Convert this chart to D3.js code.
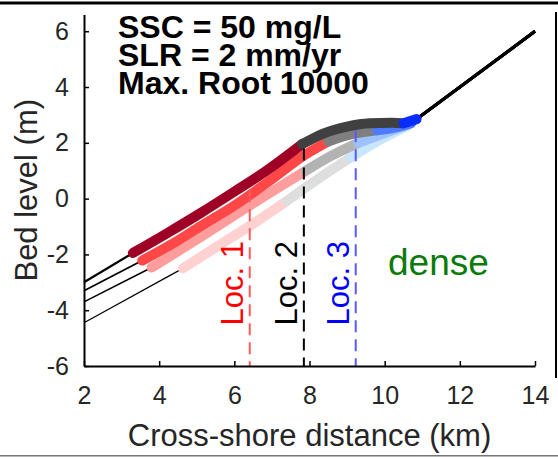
<!DOCTYPE html>
<html>
<head>
<meta charset="utf-8">
<script src="https://cdn.jsdelivr.net/npm/d3@7"></script>
<style>
  html, body { margin: 0; padding: 0; background: #fff; }
  svg { display: block; font-family: Arial, "Liberation Sans", Helvetica, sans-serif; }
</style>
</head>
<body>
<svg id="chart" width="558" height="459"></svg>
<script>
// Bed profiles (cross-shore distance in km, bed level in m)
const bedX1 = [2, 3.3, 4.2, 5.1, 6.0, 6.8, 7.8, 8.4, 9.0, 9.6, 10.2, 10.5, 10.85, 14];
const bedY1 = [-3.0, -1.95, -1.25, -0.52, 0.25, 0.95, 1.95, 2.35, 2.58, 2.7, 2.72, 2.7, 2.85, 6];
const breaks1 = [3.3, 7.8, 10.5, 10.85];

const bedX2 = [2, 3.55, 4.5, 5.1, 6.0, 7.0, 7.8, 8.5, 9.1, 9.8, 10.3, 10.7, 14];
const bedY2 = [-3.3, -2.22, -1.5, -0.99, -0.25, 0.7, 1.5, 2.05, 2.3, 2.45, 2.55, 2.7, 6];
const breaks2 = [3.55, 8.5, 9.8, 10.7];

const bedX3 = [2, 3.8, 5.1, 6.0, 7.0, 7.9, 8.6, 9.3, 10.0, 10.7, 14];
const bedY3 = [-3.7, -2.47, -1.38, -0.6, 0.25, 1.0, 1.55, 2.0, 2.35, 2.7, 6];
const breaks3 = [3.8, 7.9, 9.3, 10.7];

const bedX4 = [2, 4.63, 5.5, 6.5, 7.4, 8.2, 9.1, 9.8, 10.6, 14];
const bedY4 = [-4.45, -2.5, -1.75, -0.9, -0.08, 0.68, 1.48, 2.05, 2.6, 6];
const breaks4 = [4.63, 7.4, 9.1, 10.6];

// Zone colours per profile (vegetated, transition, upper platform)
const marshColors = ["#9e0026", "#ff4747", "#ff9c9c", "#ffd1d1"];
const grayColors  = ["#404040", "#7f7f7f", "#b3b3b3", "#dedede"];
const blueColors  = ["#0a2dff", "#4d7aff", "#9cc2ff", "#c9e6ff"];
const bareWidths  = [2.2, 1.8, 1.5, 1.2];

// Sampling locations
const locX = [6.41, 7.85, 9.23];
const locTop = [0.3, 1.8, 2.45];
const locLineColors = ["#ff5a5a", "#000000", "#5a5aff"];
const locTextColors = ["#ff0000", "#000000", "#0000ff"];
const locNames = ["Loc. 1", "Loc. 2", "Loc. 3"];

const xTicks = [2, 4, 6, 8, 10, 12, 14];
const yTicks = [-6, -4, -2, 0, 2, 4, 6];
const infoLines = ["SSC = 50 mg/L", "SLR = 2 mm/yr", "Max. Root 10000"];

const svg = d3.select("#chart");
const x = d3.scaleLinear([2, 14], [84, 535]);
const y = d3.scaleLinear([-6, 6.6], [366, 14.5]);

// page frame pieces
svg.append("rect").attr("x", 0).attr("y", 1.5).attr("width", 558).attr("height", 3).attr("fill", "#000");
svg.append("rect").attr("x", 0).attr("y", 455).attr("width", 558).attr("height", 1.5).attr("fill", "#777");
svg.append("rect").attr("x", 555).attr("y", 12).attr("width", 2).attr("height", 366).attr("fill", "#000");

const line = d3.line().x(d => x(d[0])).y(d => y(d[1])).curve(d3.curveMonotoneX);

const profiles = [
  {xs: bedX1, ys: bedY1, br: breaks1},
  {xs: bedX2, ys: bedY2, br: breaks2},
  {xs: bedX3, ys: bedY3, br: breaks3},
  {xs: bedX4, ys: bedY4, br: breaks4}
];

function part(p, a, b) {
  const pts = [];
  p.xs.forEach((v, i) => { if (v >= a - 1e-9 && v <= b + 1e-9) pts.push([v, p.ys[i]]); });
  return pts;
}

const gLines = svg.append("g");
// lightest profile first so darker ones sit on top
[3, 2, 1, 0].forEach(k => {
  const p = profiles[k];
  const [b0, b1, b2, b3] = p.br;
  gLines.append("path").attr("d", line(part(p, 2, b0)))
    .attr("fill", "none").attr("stroke", "#000").attr("stroke-width", bareWidths[k]);
  gLines.append("path").attr("d", line(part(p, b3, 14)))
    .attr("fill", "none").attr("stroke", "#000").attr("stroke-width", 3);
  [[b0, b1, marshColors[k]], [b1, b2, grayColors[k]], [b2, b3, blueColors[k]]].forEach(([a, b, c]) => {
    gLines.append("path").attr("d", line(part(p, a, b)))
      .attr("fill", "none").attr("stroke", c).attr("stroke-width", 10)
      .attr("stroke-linecap", "round").attr("stroke-linejoin", "round");
  });
});

// location markers
locX.forEach((lx, i) => {
  svg.append("line")
    .attr("x1", x(lx)).attr("x2", x(lx))
    .attr("y1", y(locTop[i])).attr("y2", y(-6))
    .attr("stroke", locLineColors[i]).attr("stroke-width", 2)
    .attr("stroke-dasharray", "12,7");
  svg.append("text")
    .attr("transform", `translate(${x(lx) - 7},${y(-4.55)}) rotate(-90)`)
    .attr("fill", locTextColors[i]).attr("font-size", 31)
    .text(locNames[i]);
});

// axes
const axL = svg.append("g").attr("transform", `translate(${x(2)},0)`)
  .call(d3.axisLeft(y).tickValues(yTicks).tickSize(-5).tickSizeOuter(0).tickPadding(15).tickFormat(d3.format("d")));
const axB = svg.append("g").attr("transform", `translate(0,${y(-6)})`)
  .call(d3.axisBottom(x).tickValues(xTicks).tickSize(-5).tickSizeOuter(0).tickPadding(20));
[axL, axB].forEach(g => {
  g.select(".domain").attr("stroke", "#000").attr("stroke-width", 2);
  g.selectAll(".tick line").attr("stroke", "#000").attr("stroke-width", 1.5);
  g.selectAll(".tick text").attr("fill", "#262626").attr("font-size", 25)
    .attr("font-family", "Arial, 'Liberation Sans', sans-serif");
});
axL.selectAll(".tick text").text(d => d < 0 ? "-" + Math.abs(d) : d);

svg.append("text").attr("x", (x(2) + x(14)) / 2).attr("y", 446)
  .attr("text-anchor", "middle").attr("fill", "#262626").attr("font-size", 31)
  .text("Cross-shore distance (km)");
svg.append("text")
  .attr("transform", `translate(37,${(y(-6) + y(6.6)) / 2}) rotate(-90)`)
  .attr("text-anchor", "middle").attr("fill", "#262626").attr("font-size", 31)
  .text("Bed level (m)");

// run settings, one multi-line text block
const info = svg.append("text").attr("x", 118).attr("y", 38)
  .attr("font-weight", "bold").attr("font-size", 32).attr("fill", "#000");
info.selectAll("tspan").data(infoLines).join("tspan")
  .attr("x", 118).attr("dy", (d, i) => i === 0 ? 0 : 28).text(d => d);

svg.append("text").attr("x", 388).attr("y", 275)
  .attr("fill", "#0a7a0a").attr("font-size", 37).text("dense");
</script>
</body>
</html>
